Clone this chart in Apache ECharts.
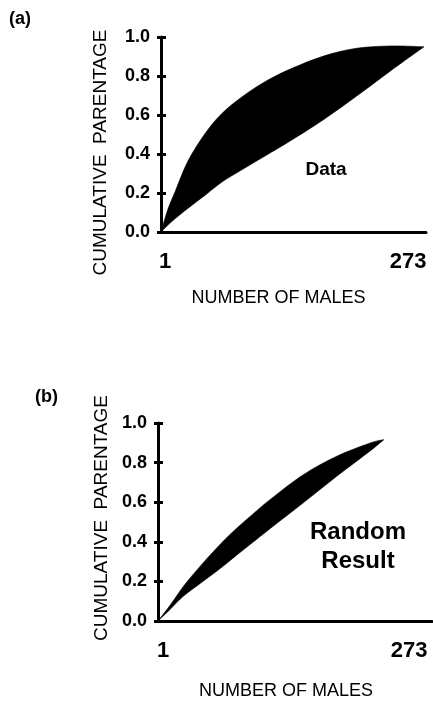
<!DOCTYPE html>
<html>
<head>
<meta charset="utf-8">
<script src="https://cdn.jsdelivr.net/npm/echarts@6/dist/echarts.min.js"></script>
<style>
html,body{margin:0;padding:0;background:#fff;}
#chart{width:433px;height:701px;}
</style>
</head>
<body>
<div id="chart"></div>
<script>
// Panel (a): Data
var dataRanks = [1, 8, 16, 29, 47, 64, 85, 109, 134, 169, 203, 238, 273];
var dataUpper = [0, 0.115, 0.212, 0.365, 0.508, 0.608, 0.694, 0.772, 0.834, 0.902, 0.942, 0.954, 0.95];
var dataLower = [0, 0.034, 0.07, 0.122, 0.19, 0.256, 0.32, 0.391, 0.465, 0.576, 0.696, 0.825, 0.95];
// Panel (b): Random result
var randRanks = [1, 14, 27, 44, 61, 78, 95, 115, 149, 183, 217, 231];
var randUpper = [0, 0.084, 0.176, 0.277, 0.370, 0.454, 0.529, 0.613, 0.739, 0.832, 0.899, 0.916];
var randLower = [0, 0.062, 0.126, 0.19, 0.252, 0.32, 0.387, 0.466, 0.597, 0.731, 0.859, 0.916];
// Tick labels
var xTickValues = [1, 273];
var yTickValues = [0, 0.2, 0.4, 0.6, 0.8, 1.0];

var FONT = '"Liberation Sans", Arial, Helvetica, sans-serif';

function xAxisCfg(grid, max, namePadRight, oneLeft, lastRight, nameGap) {
  return {
    gridIndex: grid, type: 'value', min: 1, max: max, z: 5,
    axisLine: { show: true, onZero: false, lineStyle: { color: '#000', width: 3 } },
    axisTick: { show: false },
    splitLine: { show: false },
    axisLabel: {
      customValues: xTickValues, margin: 19,
      formatter: function (v) { return v === 1 ? '{a|' + v + '}' : '{b|' + v + '}'; },
      rich: {
        a: { fontFamily: FONT, fontSize: 22, fontWeight: 'bold', color: '#000', padding: [0, 0, 0, oneLeft] },
        b: { fontFamily: FONT, fontSize: 22, fontWeight: 'bold', color: '#000', padding: [0, lastRight, 0, 0] }
      }
    },
    name: 'NUMBER OF MALES', nameLocation: 'middle', nameGap: nameGap,
    nameTextStyle: { fontFamily: FONT, fontSize: 18, color: '#000', padding: [0, namePadRight, 0, 0] }
  };
}
function yAxisMain(grid, nameGap, namePad) {
  return {
    gridIndex: grid, type: 'value', min: 0, max: 1, interval: 0.2, position: 'left', z: 5,
    axisLine: { show: true, lineStyle: { color: '#000', width: 3 } },
    axisTick: { show: true, length: 4, lineStyle: { color: '#000', width: 3 } },
    splitLine: { show: false },
    axisLabel: { margin: 11, fontFamily: FONT, fontSize: 18, fontWeight: 'bold', color: '#000',
      customValues: yTickValues,
      formatter: function (v) { return v.toFixed(1); } },
    name: 'CUMULATIVE  PARENTAGE', nameLocation: 'middle', nameRotate: 90, nameGap: nameGap,
    nameTextStyle: { fontFamily: FONT, fontSize: 19, color: '#000', padding: namePad }
  };
}
function yAxisInner(grid) {
  return {
    gridIndex: grid, type: 'value', min: 0, max: 1, interval: 0.2, position: 'left', z: 5,
    axisLine: { show: false },
    axisTick: { show: true, inside: true, length: 5, lineStyle: { color: '#000', width: 3 } },
    axisLabel: { show: false }, splitLine: { show: false }
  };
}

// Smooth (Catmull-Rom) path through pixel points, as cubic segments
function splinePath(P) {
  var s = '';
  var n = P.length;
  for (var i = 0; i < n - 1; i++) {
    var p0 = P[Math.max(i - 1, 0)], p1 = P[i], p2 = P[i + 1], p3 = P[Math.min(i + 2, n - 1)];
    var c1x = p1[0] + (p2[0] - p0[0]) / 6, c1y = p1[1] + (p2[1] - p0[1]) / 6;
    var c2x = p2[0] - (p3[0] - p1[0]) / 6, c2y = p2[1] - (p3[1] - p1[1]) / 6;
    s += ' C' + c1x + ' ' + c1y + ' ' + c2x + ' ' + c2y + ' ' + p2[0] + ' ' + p2[1];
  }
  return s;
}
// Filled band between the upper and lower cumulative curves
function bandSeries(xi, yi, xs, up, lo) {
  return {
    type: 'custom', coordinateSystem: 'cartesian2d', xAxisIndex: xi, yAxisIndex: yi,
    data: xs.map(function (x, i) { return [x, up[i]]; }),
    z: 2, silent: true,
    renderItem: function (params, api) {
      if (params.dataIndex !== 0) return null;
      var U = xs.map(function (x, i) { return api.coord([x, up[i]]); });
      var L = xs.map(function (x, i) { return api.coord([x, lo[i]]); }).reverse();
      var d = 'M' + U[0][0] + ' ' + U[0][1] + splinePath(U) +
              ' L' + L[0][0] + ' ' + L[0][1] + splinePath(L) + ' Z';
      return { type: 'path', shape: { pathData: d }, style: { fill: '#000', stroke: '#000', lineWidth: 0.6 } };
    }
  };
}

var chart = echarts.init(document.getElementById('chart'), null, { renderer: 'canvas' });
chart.setOption({
  animation: false,
  backgroundColor: '#fff',
  grid: [
    { left: 161, right: 7, top: 37, bottom: 469 },
    { left: 158, right: 1, top: 423, bottom: 78.5 }
  ],
  xAxis: [
    xAxisCfg(0, 275, 30, 8, 32, 57),
    xAxisCfg(1, 280, 18, 10, 32, 61)
  ],
  yAxis: [
    yAxisMain(0, 51, [0, 36, 0, 0]),
    yAxisInner(0),
    yAxisMain(1, 40, [0, 0, 0, 8]),
    yAxisInner(1)
  ],
  series: [
    bandSeries(0, 0, dataRanks, dataUpper, dataLower),
    bandSeries(1, 2, randRanks, randUpper, randLower)
  ],
  graphic: [
    { type: 'text', z: 100, x: 20, y: 19, style: { text: '(a)', font: 'bold 18px ' + FONT, fill: '#000', textAlign: 'center', textVerticalAlign: 'middle' } },
    { type: 'text', z: 100, x: 46.5, y: 397, style: { text: '(b)', font: 'bold 18px ' + FONT, fill: '#000', textAlign: 'center', textVerticalAlign: 'middle' } },
    { type: 'text', z: 100, x: 326, y: 170, style: { text: 'Data', font: 'bold 19px ' + FONT, fill: '#000', textAlign: 'center', textVerticalAlign: 'middle' } },
    { type: 'text', z: 100, x: 358, y: 547, style: { text: 'Random\nResult', font: 'bold 24px ' + FONT, lineHeight: 29, fill: '#000', textAlign: 'center', textVerticalAlign: 'middle' } }
  ]
});
</script>
</body>
</html>
